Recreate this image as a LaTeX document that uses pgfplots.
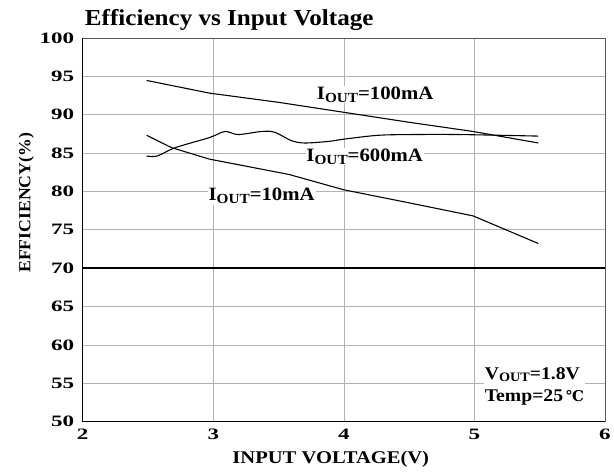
\documentclass[border=0pt]{standalone}
\usepackage{fontspec}
\setmainfont{Liberation Serif}
\newfontfamily\tickfont[FakeStretch=1.45]{Liberation Serif}
\newfontfamily\labfont[FakeStretch=1.1]{Liberation Serif}
\newfontfamily\xlabfont[FakeStretch=1.15]{Liberation Serif}
\newfontfamily\ylabfont[FakeStretch=1.05]{Liberation Serif}
\usepackage{pgfplots}
\pgfplotsset{compat=1.18}
\newcommand{\Iout}{I\raisebox{-0.3ex}{\fontsize{14}{14}\selectfont OUT}}
\begin{document}
\begin{tikzpicture}
\begin{axis}[
  scale only axis, width=524bp, height=385bp,
  xmin=2, xmax=6, ymin=50, ymax=100,
  xtick={2,3,4,5,6}, ytick={50,55,...,100},
  grid=major, major grid style={gray!60, line width=0.6pt},
  major tick length=0pt,
  axis line style={gray!70!black, line width=0.6pt},
  /pgf/number format/assume math mode=true,
  ticklabel style={font=\fontsize{16}{16}\tickfont\bfseries},
  xticklabel style={yshift=-4bp},
  yticklabel style={xshift=-5bp},
  xlabel={INPUT VOLTAGE(V)},
  ylabel={EFFICIENCY(\%)},
  xlabel style={at={(ticklabel cs:0.475)}, yshift=-5bp, font=\fontsize{18}{18}\xlabfont\bfseries},
  ylabel style={at={(ticklabel cs:0.57)}, yshift=-1bp, font=\fontsize{17}{17}\ylabfont\bfseries},
  title={Efficiency vs Input Voltage},
  title style={at={(rel axis cs:0,1)}, anchor=south west, xshift=1bp, yshift=0bp, inner sep=1pt, font=\fontsize{23}{23}\labfont\bfseries},
  clip=false,
]
\path (rel axis cs:0,1) ++(-83bp,38bp) coordinate (tl);
\path (rel axis cs:1,0) ++(7bp,-53bp) coordinate (br);
\path (tl) (br);
\draw[black, line width=1.2pt] (rel axis cs:0,0) -- (rel axis cs:1,0);
\draw[black, line width=1.2pt] (rel axis cs:0,0) -- (rel axis cs:0,1);
\draw[black, line width=1.2pt] (axis cs:2,70) -- (axis cs:6,70);

% I_OUT = 100 mA
\addplot[black, line width=1.1pt] coordinates {
(2.49,94.45) (2.97,92.8) (3.5,91.6) (4.0,90.3) (4.5,89.0) (4.99,87.8) (5.49,86.3)
};
% I_OUT = 600 mA
\addplot[black, line width=1.1pt, smooth, tension=0.5] coordinates {
(2.49,84.6) (2.57,84.6) (2.71,85.7) (2.97,87.0) (3.09,87.8) (3.19,87.4) (3.37,87.8) (3.47,87.7) (3.6,86.6) (3.70,86.3) (3.88,86.5) (4.0,86.8) (4.26,87.3) (4.51,87.4) (4.89,87.4) (5.49,87.2)
};
% I_OUT = 10 mA
\addplot[black, line width=1.1pt] coordinates {
(2.49,87.3) (2.68,85.7) (2.97,84.2) (3.58,82.2) (4.0,80.2) (4.5,78.5) (4.99,76.8) (5.49,73.2)
};

\node[fill=white, inner sep=1pt, font=\fontsize{19}{19}\labfont\bfseries] at (axis cs:4.24,92.6) {\Iout=100mA};
\node[fill=white, inner sep=1pt, font=\fontsize{19}{19}\labfont\bfseries] at (axis cs:4.16,84.5) {\Iout=600mA};
\node[fill=white, inner sep=1pt, font=\fontsize{19}{19}\labfont\bfseries] at (axis cs:3.37,79.4) {\Iout=10mA};
\node[fill=white, inner sep=1pt, align=left, font=\fontsize{18}{22}\labfont\bfseries] at (axis cs:5.46,54.6) {V\raisebox{-0.3ex}{\fontsize{13}{13}\selectfont OUT}=1.8V\\Temp=25\,\fontspec{DejaVu Serif}\fontsize{15}{15}\selectfont ℃};
\end{axis}
\end{tikzpicture}
\end{document}
